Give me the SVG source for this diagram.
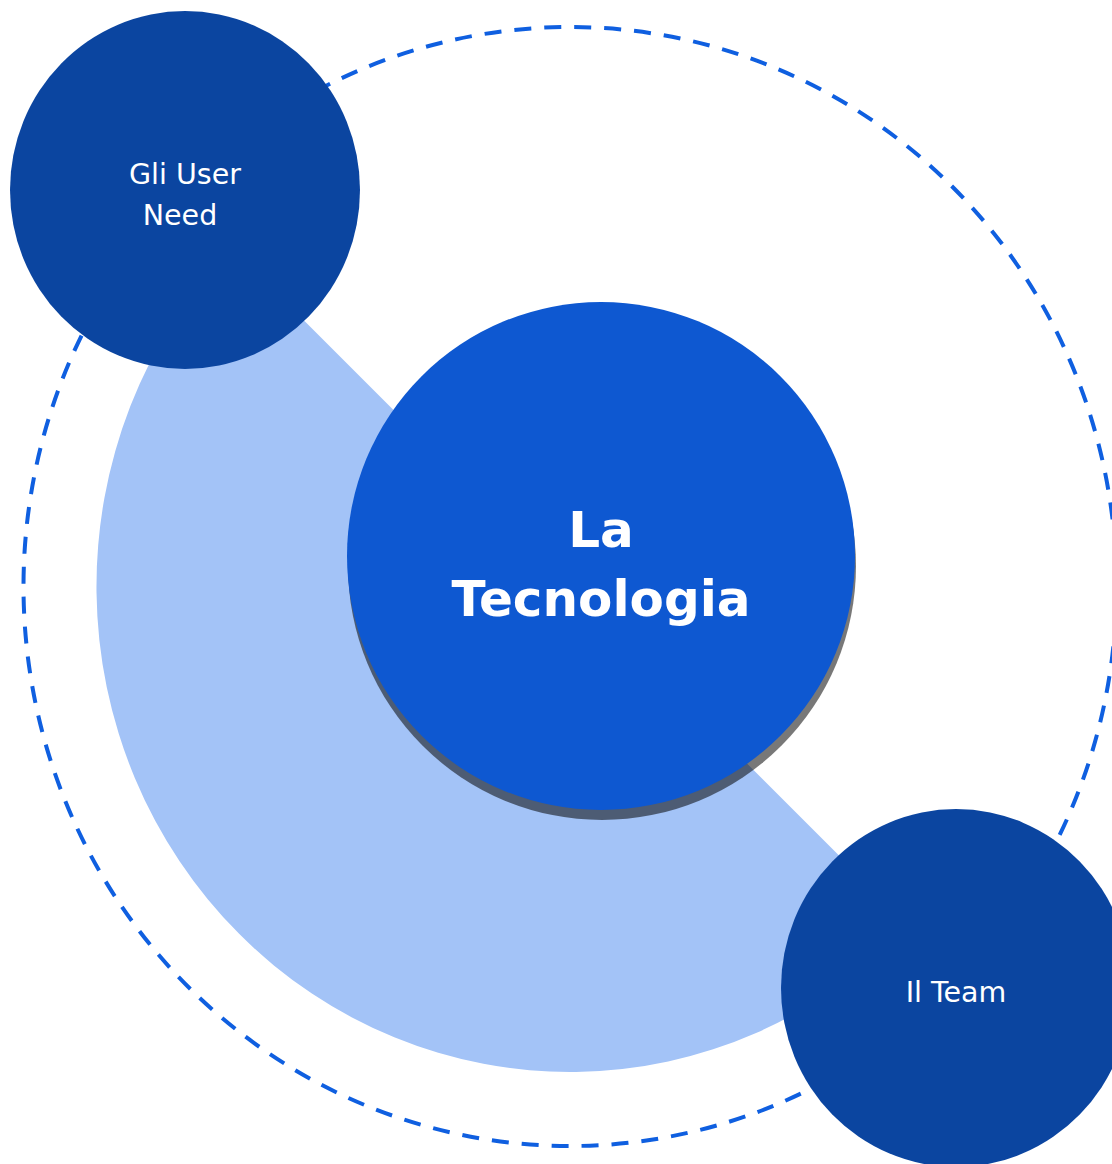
<svg xmlns="http://www.w3.org/2000/svg" width="1112" height="1164" viewBox="0 0 1112 1164">
  <style>
    .ring { fill: none; stroke: #0f5fe0; stroke-width: 4; stroke-dasharray: 17 13; }
    .band { fill: #a3c3f7; }
    .side { fill: #0b45a0; }
    .core { fill: #0e58d1; }
    .shadow { fill: #000000; opacity: 0.53; }
    .lbl { font-family: "DejaVu Sans", "Liberation Sans", sans-serif; fill: #ffffff; text-anchor: middle; }
    .small { font-size: 28.5px; }
    .big { font-size: 50px; font-weight: bold; }
  </style>
  <rect width="1112" height="1164" fill="#ffffff"/>
  <g id="background">
    <ellipse class="ring" cx="570" cy="586.5" rx="546.5" ry="559.5"/>
    <path class="band" d="M 231 247.5 A 473.5 485.5 0 1 0 909 925.5 Z"/>
  </g>
  <g id="connectors"></g>
  <g id="node-tecnologia">
    <ellipse class="shadow" cx="602" cy="566" rx="254" ry="254"/>
    <ellipse class="core" cx="601" cy="556" rx="254" ry="254"/>
    <text class="lbl big" x="601" y="547">La</text>
    <text class="lbl big" x="601" y="616">Tecnologia</text>
  </g>
  <g id="node-user-need">
    <ellipse class="side" cx="185" cy="190" rx="175" ry="179"/>
    <text class="lbl small" x="185" y="184">Gli User</text>
    <text class="lbl small" x="180" y="225">Need</text>
  </g>
  <g id="node-team">
    <ellipse class="side" cx="956" cy="988" rx="175" ry="179"/>
    <text class="lbl small" x="956" y="1002">Il Team</text>
  </g>
</svg>
